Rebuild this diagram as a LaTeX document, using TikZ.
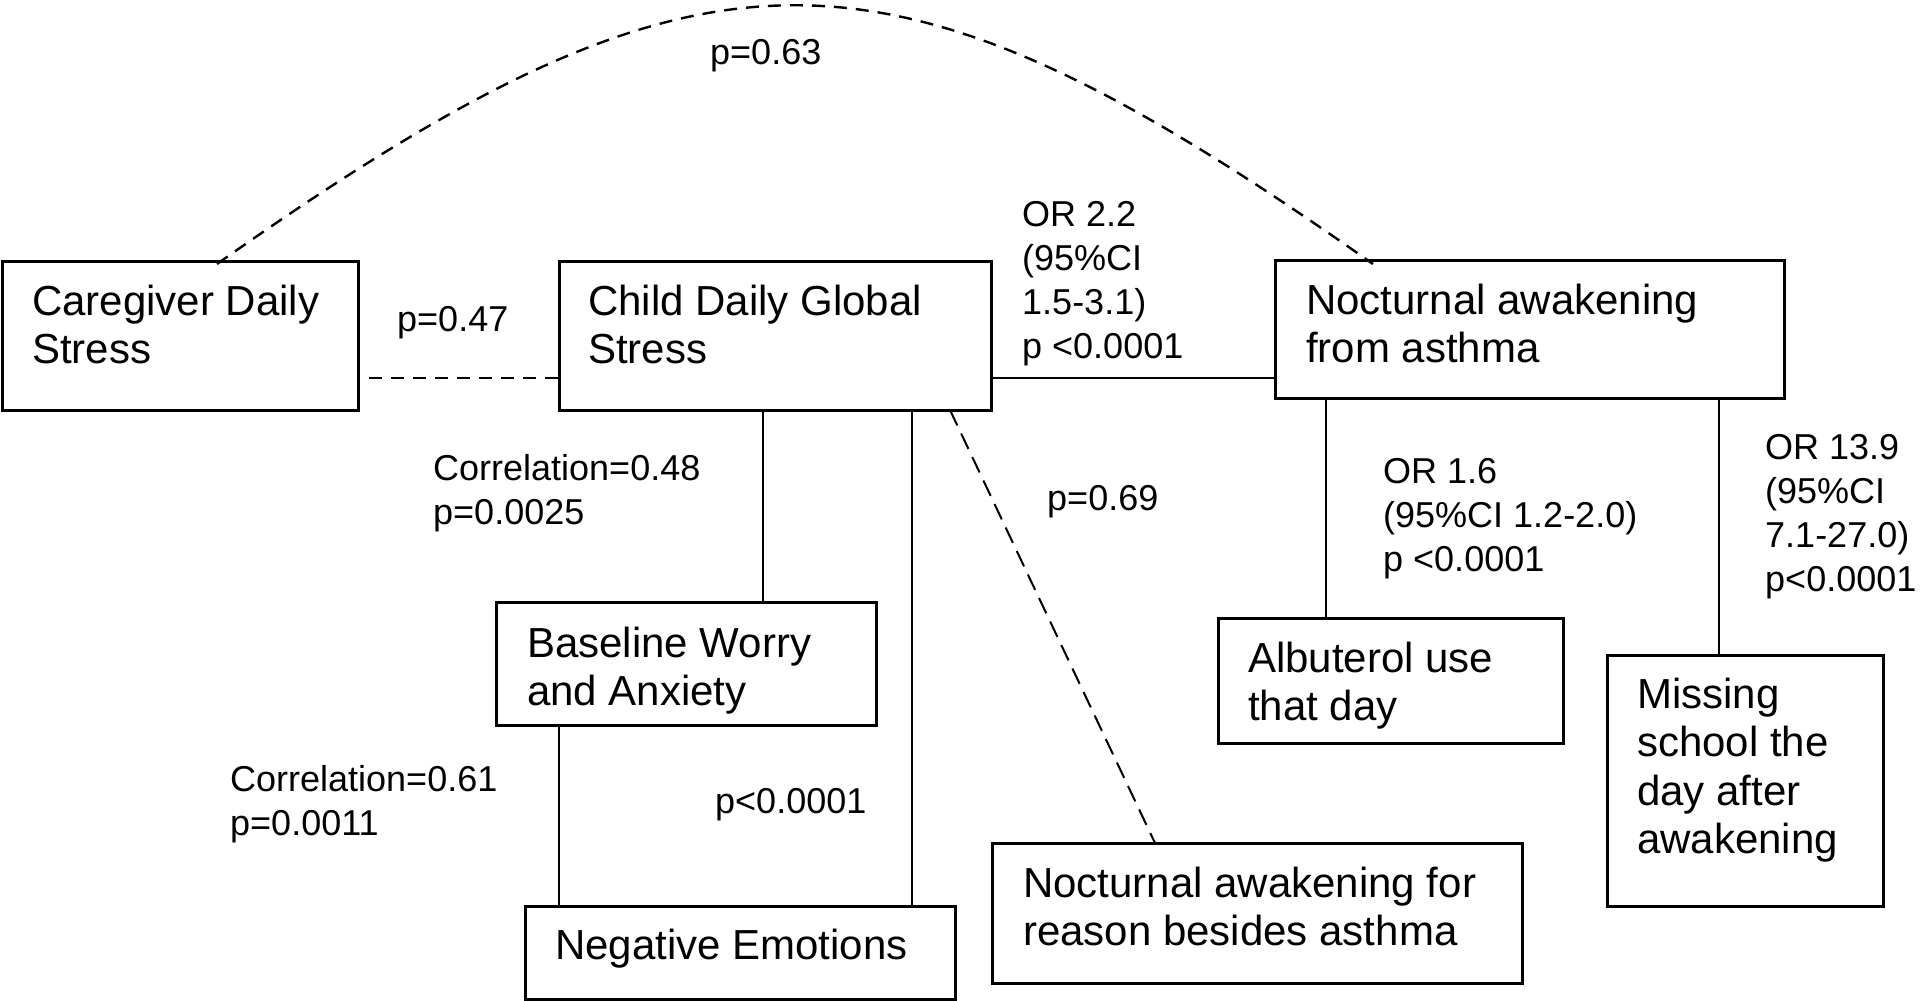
\documentclass[tikz,border=0pt]{standalone}
\usepackage{fontspec}
\setmainfont{Liberation Sans}
\begin{document}
\begin{tikzpicture}[x=1pt,y=-1pt,
  box/.style={draw, line width=3pt, rectangle, anchor=north west, inner sep=0pt, outer sep=0pt},
  boxtext/.style={anchor=north west, inner sep=0pt, align=left, font=\fontsize{42}{48.5}\selectfont},
  lab/.style={anchor=north west, inner sep=0pt, align=left, font=\fontsize{36}{44}\selectfont},
  conn/.style={line width=2.2pt},
  dashconn/.style={line width=2.4pt, dash pattern=on 13pt off 9pt},
]
\useasboundingbox[fill=white] (0,0) rectangle (1920,1001);

% boxes
\node[box, minimum width=356pt, minimum height=149pt] (cg) at (2,261) {};
\node[box, minimum width=432pt, minimum height=149pt] (cd) at (559,261) {};
\node[box, minimum width=509pt, minimum height=138pt] (na) at (1275,260) {};
\node[box, minimum width=380pt, minimum height=123pt] (bw) at (496,602) {};
\node[box, minimum width=430pt, minimum height=93pt] (ne) at (525,906) {};
\node[box, minimum width=530pt, minimum height=140pt] (nb) at (992,843) {};
\node[box, minimum width=345pt, minimum height=125pt] (al) at (1218,618) {};
\node[box, minimum width=276pt, minimum height=251pt] (ms) at (1607,655) {};

% box texts
\node[boxtext] (cgt) at ([xshift=30pt,yshift=-20.4pt]cg.north west) {\rule{0pt}{0.8em}Caregiver Daily\\Stress};
\node[boxtext] (cdt) at ([xshift=29pt,yshift=-20.4pt]cd.north west) {\rule{0pt}{0.8em}Child Daily Global\\Stress};
\node[boxtext] (nat) at ([xshift=31pt,yshift=-20.4pt]na.north west) {\rule{0pt}{0.8em}Nocturnal awakening\\from asthma};
\node[boxtext] (bwt) at ([xshift=31pt,yshift=-21.4pt]bw.north west) {\rule{0pt}{0.8em}Baseline Worry\\and Anxiety};
\node[boxtext] (net) at ([xshift=30pt,yshift=-19.4pt]ne.north west) {\rule{0pt}{0.8em}Negative Emotions};
\node[boxtext] (nbt) at ([xshift=31pt,yshift=-20.4pt]nb.north west) {\rule{0pt}{0.8em}Nocturnal awakening for\\reason besides asthma};
\node[boxtext] (alt) at ([xshift=30pt,yshift=-20.4pt]al.north west) {\rule{0pt}{0.8em}Albuterol use\\that day};
\node[boxtext] (mst) at ([xshift=30pt,yshift=-19.4pt]ms.north west) {\rule{0pt}{0.8em}Missing\\school the\\day after\\awakening};

% connectors
\draw[dashconn] ([xshift=11pt,yshift=32pt]cg.south east) -- ([yshift=32pt]cd.south west);
\draw[conn] ([yshift=32pt]cd.south east) -- ([yshift=20pt]na.south west);
\draw[conn] ([xshift=204pt]cd.south west) -- ([xshift=267pt]bw.north west);
\draw[conn] ([xshift=353pt]cd.south west) -- ([xshift=387pt]ne.north west);
\draw[conn] ([xshift=63pt]bw.south west) -- ([xshift=34pt]ne.north west);
\draw[dashconn, line width=2pt, dash pattern=on 17pt off 9pt] ([xshift=391pt]cd.south west) -- ([xshift=163pt]nb.north west);
\draw[conn] ([xshift=51pt]na.south west) -- ([xshift=108pt]al.north west);
\draw[conn] ([xshift=444pt]na.south west) -- ([xshift=112pt]ms.north west);
\draw[dashconn] ([xshift=215pt,yshift=-3pt]cg.north west) .. controls +(490,-345) and +(-490,-345) .. ([xshift=98pt,yshift=-4pt]na.north west);

% labels
\node[lab] (l63) at (710,35.2) {\rule{0pt}{0.8em}p=0.63};
\node[lab] (l47) at (397,302.2) {\rule{0pt}{0.8em}p=0.47};
\node[lab] (l22) at (1022,197.2) {\rule{0pt}{0.8em}OR 2.2\\(95\%CI\\1.5-3.1)\\p <0.0001};
\node[lab] (l48) at (433,451.2) {\rule{0pt}{0.8em}Correlation=0.48\\p=0.0025};
\node[lab] (l69) at (1047,481.2) {\rule{0pt}{0.8em}p=0.69};
\node[lab] (l16) at (1383,454.2) {\rule{0pt}{0.8em}OR 1.6\\(95\%CI 1.2-2.0)\\p <0.0001};
\node[lab] (l139) at (1765,430.2) {\rule{0pt}{0.8em}OR 13.9\\(95\%CI\\7.1-27.0)\\p<0.0001};
\node[lab] (l61) at (230,762.2) {\rule{0pt}{0.8em}Correlation=0.61\\p=0.0011};
\node[lab] (l0001) at (715,784.2) {\rule{0pt}{0.8em}p<0.0001};
\end{tikzpicture}
\end{document}
